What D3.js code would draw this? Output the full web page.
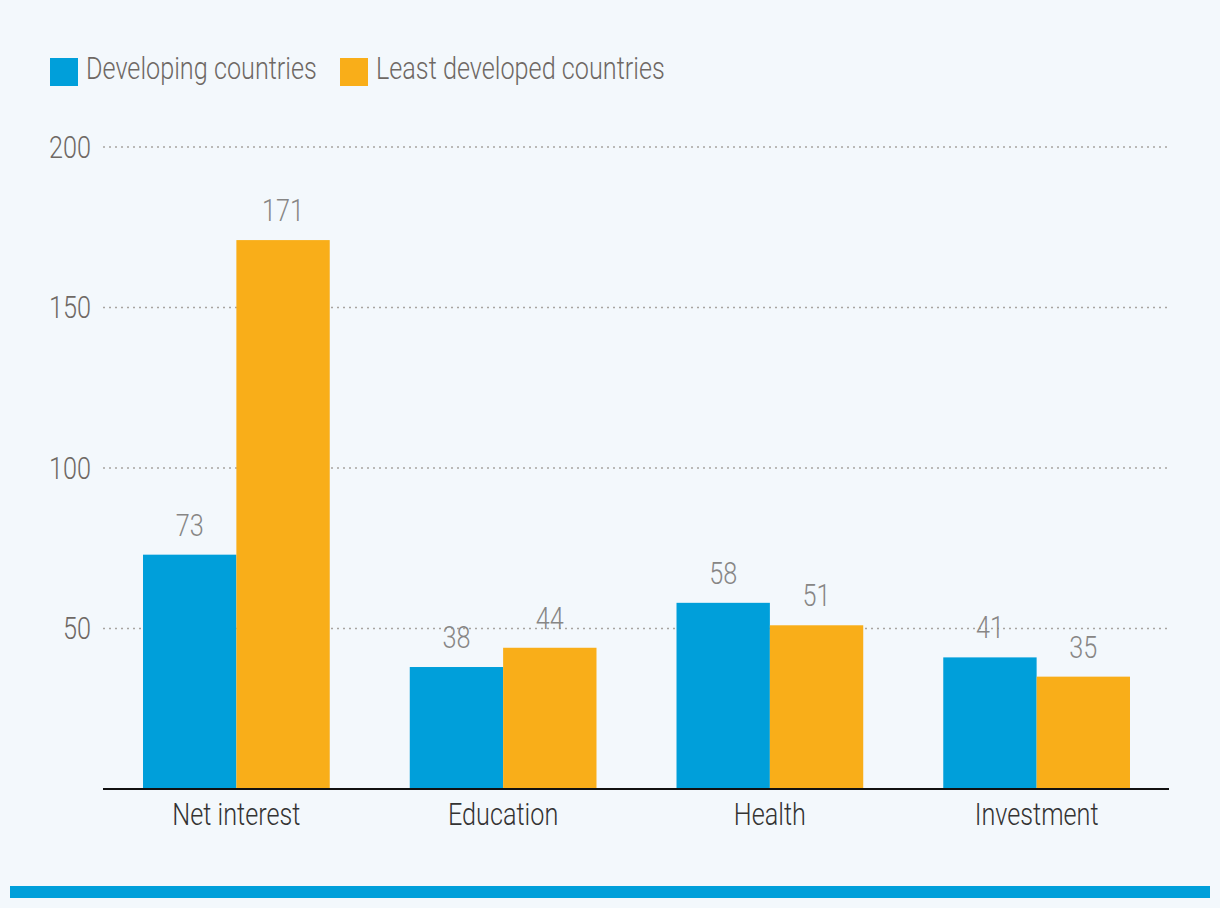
<!DOCTYPE html>
<html><head><meta charset="utf-8">
<script src="https://cdn.jsdelivr.net/npm/d3@7"></script>
<style>
html,body{margin:0;padding:0;background:#f3f8fc;}
svg{display:block;}
text{font-family:Roboto,"Liberation Sans",sans-serif;font-weight:300;}
</style></head>
<body>
<svg id="chart" width="1220" height="908"></svg>
<script>
const categories = ["Net interest","Education","Health","Investment"];
const seriesNames = ["Developing countries","Least developed countries"];
const developing = [73,38,58,41];
const leastDeveloped = [171,44,51,35];
const yTicks = [50,100,150,200];
const colors = ["#009fda","#f9ae19"];

const FS = 31;
const svg = d3.select("#chart");
svg.append("rect").attr("width",1220).attr("height",908).attr("fill","#f3f8fc");

// horizontal condensation factor, measured so the legend label matches the reference width
const probe = svg.append("text").attr("font-size",FS).text(seriesNames[0]);
const K = 231 / probe.node().getComputedTextLength();
probe.remove();

function cText(sel, xf, yf){
  return sel.attr("transform",`scale(${K},1)`)
    .attr("x",(d,i)=>xf(d,i)/K).attr("y",yf).attr("font-size",FS);
}

const x0 = d3.scaleBand().domain(categories).range([103,1170]).paddingInner(0.3).paddingOuter(0.15);
const x1 = d3.scaleBand().domain(seriesNames).range([0,x0.bandwidth()]);
const y = d3.scaleLinear().domain([0,200]).range([789,147]);

// gridlines
svg.append("g").selectAll("line").data(yTicks).join("line")
  .attr("x1",103).attr("x2",1168)
  .attr("y1",d=>y(d)).attr("y2",d=>y(d))
  .attr("stroke","#a8a4a0").attr("stroke-width",1.5).attr("stroke-dasharray","2,4");

// y tick labels
cText(svg.append("g").selectAll("text").data(yTicks).join("text"), ()=>91, d=>y(d)+11)
  .attr("text-anchor","end").attr("fill","#6e6864")
  .text(d=>d);

const data = categories.map((c,i)=>({cat:c, vals:[developing[i],leastDeveloped[i]]}));

const groups = svg.append("g").selectAll("g").data(data).join("g")
  .attr("transform",d=>`translate(${x0(d.cat)},0)`);

groups.selectAll("rect").data(d=>d.vals.map((v,j)=>({s:seriesNames[j],v,j}))).join("rect")
  .attr("x",d=>x1(d.s)).attr("width",x1.bandwidth())
  .attr("y",d=>y(d.v)).attr("height",d=>y(0)-y(d.v))
  .attr("fill",d=>colors[d.j]);

cText(groups.selectAll("text.val").data(d=>d.vals.map((v,j)=>({s:seriesNames[j],v,j}))).join("text"),
    d=>x1(d.s)+x1.bandwidth()/2, d=>y(d.v)-19)
  .attr("class","val")
  .attr("text-anchor","middle").attr("fill","#878685")
  .text(d=>d.v);

// x axis line
svg.append("line").attr("x1",103).attr("x2",1169).attr("y1",789).attr("y2",789)
  .attr("stroke","#111").attr("stroke-width",2);

// category labels
cText(svg.append("g").selectAll("text").data(categories).join("text"),
    d=>x0(d)+x0.bandwidth()/2, ()=>825)
  .attr("text-anchor","middle").attr("fill","#333")
  .text(d=>d);

// legend
const legendX = [50,340];
const lg = svg.append("g").selectAll("g").data(seriesNames).join("g")
  .attr("transform",(d,i)=>`translate(${legendX[i]},58)`);
lg.append("rect").attr("width",28).attr("height",28).attr("fill",(d,i)=>colors[i]);
cText(lg.append("text"), ()=>36, ()=>21).attr("fill","#6e6864").text(d=>d);

// bottom bar
svg.append("rect").attr("x",10).attr("y",886).attr("width",1200).attr("height",12).attr("fill","#009fda");
</script>
</body></html>
